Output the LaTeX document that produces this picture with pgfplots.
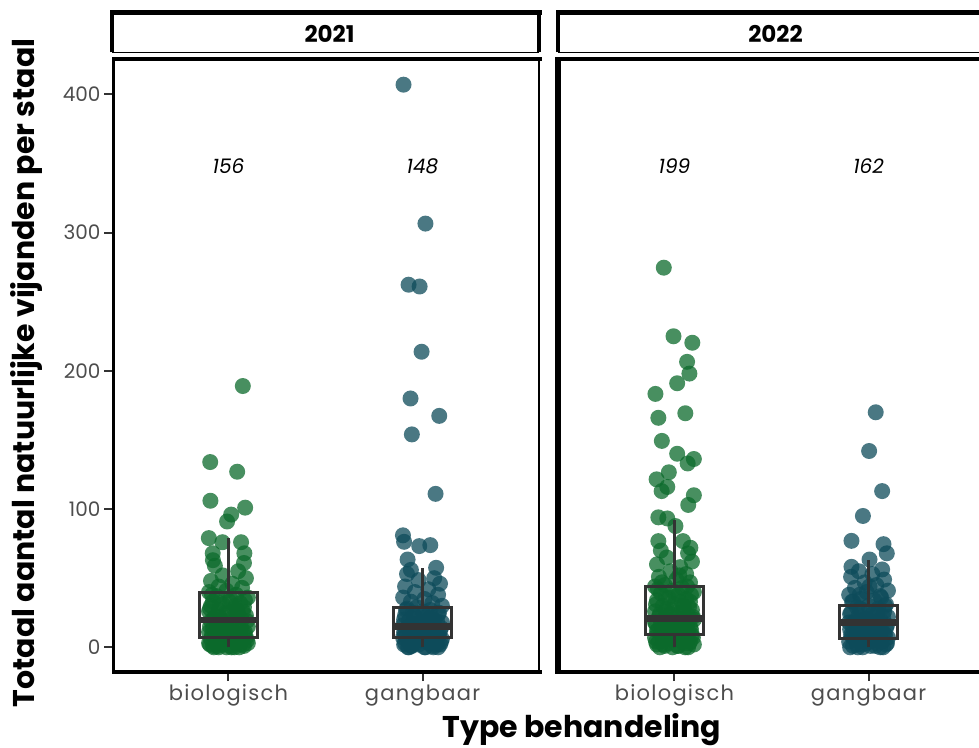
\documentclass[border=0pt]{standalone}
\usepackage{fontspec}
\setmainfont{Poppins}
\usepackage{pgfplots}
\pgfplotsset{compat=1.18}

\definecolor{bio}{HTML}{0B6A2B}
\definecolor{gang}{HTML}{0D4B5A}
\definecolor{boxc}{HTML}{333333}
\definecolor{tickc}{HTML}{4D4D4D}

\tikzset{lab/.style={font=\fontsize{20}{24}\selectfont\itshape, anchor=base}}

\pgfplotsset{
  pts/.style={only marks, mark=*, mark size=8pt,
    mark options={draw=#1, fill=#1, draw opacity=0, fill opacity=0.75}},
  bx/.style={boxc, line width=3pt, mark=none, line join=miter, unbounded coords=jump},
  md/.style={boxc, line width=6.5pt, mark=none},
}

% panel 2 (2022) is drawn in the same axis, shifted by 2.298 units
\begin{document}
\begin{tikzpicture}
\begin{axis}[
    at={(112pt,74pt)}, anchor=south west,
    scale only axis, width=873pt, height=615pt,
    xmin=0.4, xmax=4.898, ymin=-18.6, ymax=426.3,
    clip marker paths=true,
    xtick={1,2,3.298,4.298},
    xticklabels={biologisch,gangbaar,biologisch,gangbaar},
    ytick={0,100,200,300,400},
    tick align=outside, major tick length=8pt,
    xtick pos=bottom, ytick pos=left,
    every tick/.style={boxc, line width=2pt},
    axis line style={draw=none},
    tick label style={font=\fontsize{20}{24}\selectfont, text=tickc},
    xticklabel style={font=\fontsize{21}{24}\selectfont\addfontfeature{LetterSpace=6}},
    /pgf/number format/assume math mode=true,
  ]
  % ---- 2021 ----
  \addplot[pts=bio] coordinates {
    (1.074,189)(0.906,134)(1.045,127)(0.907,106)(1.086,101)(1.014,96)
    (0.993,91)(0.899,79)(0.969,76)(1.065,76)(1.082,68)(0.919,68)
    (0.92,63)(1.08,61)(0.93,59)(1.05,55)(0.97,52)(1.09,50)(0.91,48)
    (1.02,46)(0.95,44)(1.07,43)(0.99,41)(0.90,40)(1.04,38)(0.94,37)
    (1.10,36)(1.01,35)(0.92,33)(1.06,32)(0.97,31)(0.91,30)(1.08,29)
    (1.03,28)(0.95,27)(0.90,26)(1.05,25)(0.99,24)(1.09,23)(0.93,22)
    (1.02,21)(0.96,20)(1.07,20)(0.91,19)(1.00,18)(1.04,17)(0.94,16)
    (1.10,15)(0.98,15)(0.92,14)(1.06,13)(1.01,12)(0.95,12)(0.90,11)
    (1.08,10)(1.03,10)(0.97,9)(0.93,8)(1.05,8)(0.99,7)(1.09,7)(0.91,6)
    (1.02,6)(0.96,5)(1.07,5)(0.94,4)(1.00,4)(1.04,3)(0.90,3)(1.10,3)
    (0.97,2)(1.06,2)(0.92,1)(1.01,1)(1.08,1)(0.95,0)(1.03,0)(0.99,0)
    (0.915,38)(1.085,34)(0.955,32)(1.035,30)(0.905,28)(1.075,26)(0.985,25)
    (1.045,23)(0.925,21)(1.095,19)(0.965,18)(1.015,16)(0.905,15)(1.065,14)
    (0.945,13)(1.025,11)(1.085,11)(0.915,9)(0.985,9)(1.055,8)(0.935,7)
    (1.005,6)(1.095,5)(0.965,4)(1.035,4)(0.905,2)(1.075,2)(0.945,1)
    (1.015,0)(1.055,0)(0.925,0)(0.975,12)(1.045,27)(0.955,22)(1.005,33)
  };
  \addplot[pts=gang] coordinates {
    (1.902,407)(2.015,306.5)(1.928,262.3)(1.985,261)(1.995,213.8)
    (1.938,180)(2.086,167.4)(1.945,154)(2.067,111)(1.899,81)(1.905,76.3)
    (1.983,73.2)(2.04,73.9)(1.923,63.5)
    (2.07,57.5)(1.94,56)(1.92,53)(2.06,50)(1.98,48.6)(2.09,46)(1.91,44)
    (2.03,42)(1.96,40)(2.08,38)(1.90,36)(2.01,35)(1.94,33)(2.05,32)
    (2.10,30)(1.97,29)(1.92,28)(2.04,27)(2.00,26)(1.95,25)(2.08,24)
    (1.91,23)(2.02,22)(1.97,21)(2.06,20)(1.93,19)(2.10,18)(1.99,17)
    (2.04,16)(1.90,16)(1.95,15)(2.07,14)(2.01,14)(1.93,13)(2.09,12)
    (1.97,12)(2.03,11)(1.91,10)(2.06,10)(1.99,9)(1.94,9)(2.08,8)(2.02,8)
    (1.90,7)(1.96,7)(2.05,6)(2.10,6)(1.92,5)(2.00,5)(2.07,4)(1.95,4)
    (2.03,3)(1.91,3)(1.98,2)(2.09,2)(1.94,1)(2.05,1)(2.01,0)(1.93,0)(2.08,0)
    (1.915,27)(2.085,25)(1.955,23)(2.035,21)(1.905,20)(2.075,19)(1.985,18)
    (2.045,17)(1.925,15)(2.095,14)(1.965,13)(2.015,12)(1.905,11)(2.065,11)
    (1.945,10)(2.025,9)(2.085,9)(1.915,8)(1.985,7)(2.055,7)(1.935,6)
    (2.005,6)(2.095,4)(1.965,3)(2.035,3)(1.905,2)(2.075,2)(1.945,1)
    (2.015,0)(2.055,0)(1.925,0)(1.975,11)(2.045,22)(1.955,17)(2.005,24)
  };
  % ---- 2022 ----
  \addplot[pts=bio, x filter/.expression={x+2.298}] coordinates {
    (0.945,274.6)(0.995,225)(1.092,220.3)(1.065,206.5)(1.077,198)
    (1.014,191)(0.902,183.3)(0.917,166)(1.056,169.3)(0.935,149.3)
    (1.014,140)(1.068,133)(1.100,136.2)(0.971,126.6)(0.908,121.5)
    (0.934,113)(0.963,116)(1.10,110)(1.071,103)(0.917,94)(0.963,93.2)
    (1.005,87.7)(0.917,76.8)(1.044,76.8)(1.082,72)
    (0.93,70)(1.07,68)(0.96,65)(1.09,62)(0.91,60)(1.03,58)(0.98,55)
    (1.06,53)(0.92,51)(1.01,49)(1.08,47)(0.95,45)(0.90,44)(1.04,43)
    (0.99,41)(1.10,40)(0.93,39)(1.02,38)(0.97,36)(1.06,35)(0.91,34)
    (1.08,33)(1.00,31)(0.94,30)(1.05,29)(0.96,28)(1.09,27)(0.90,26)
    (1.03,25)(0.98,24)(1.07,23)(0.92,22)(1.01,21)(0.95,21)(1.10,20)
    (1.04,19)(0.90,18)(0.97,18)(1.06,17)(0.93,16)(1.00,15)(1.08,15)
    (0.95,14)(1.02,13)(0.91,12)(1.07,12)(0.98,11)(1.04,10)(0.93,10)
    (1.09,9)(0.96,8)(1.01,8)(0.90,7)(1.06,7)(0.94,6)(1.03,5)(0.99,5)
    (1.08,4)(0.92,4)(1.05,3)(0.97,3)(1.10,2)(0.91,2)(1.02,1)(0.95,1)
    (1.07,0)(0.99,0)
    (0.915,42)(1.085,38)(0.955,36)(1.035,33)(0.905,31)(1.075,29)(0.985,27)
    (1.045,25)(0.925,24)(1.095,22)(0.965,20)(1.015,19)(0.905,17)(1.065,16)
    (0.945,15)(1.025,14)(1.085,13)(0.915,12)(0.985,11)(1.055,10)(0.935,9)
    (1.005,8)(1.095,7)(0.965,6)(1.035,5)(0.905,4)(1.075,3)(0.945,2)
    (1.015,1)(1.055,0)(0.925,0)(0.975,16)(1.045,30)(0.955,26)(1.005,37)
    (1.065,44)(0.935,47)(1.025,52)
  };
  \addplot[pts=gang, x filter/.expression={x+2.298}] coordinates {
    (2.037,170)(2.003,142)(2.07,113)(1.971,95)(1.912,77)(2.077,74.6)
    (2.094,68)(2.005,63.5)(1.912,58.2)(2.07,56.3)
    (1.95,55)(2.02,53)(1.91,51)(2.08,49)(1.98,47)(2.04,45)(1.93,43)
    (2.10,41)(1.99,40)(1.90,38)(2.06,37)(1.96,35)(2.03,34)(1.92,33)
    (2.09,31)(2.00,30)(1.94,29)(2.05,28)(1.97,27)(2.08,26)(1.91,25)
    (2.02,24)(1.95,23)(2.10,22)(1.99,21)(2.06,20)(1.93,19)(2.01,18)
    (1.90,18)(2.07,17)(1.96,16)(2.04,15)(1.92,14)(2.09,14)(1.98,13)
    (2.03,12)(1.94,11)(2.08,10)(2.00,10)(1.91,9)(2.05,8)(1.97,8)
    (2.10,7)(1.93,6)(2.02,6)(1.96,5)(2.07,4)(1.90,4)(1.99,3)(2.04,3)
    (1.94,2)(2.09,2)(2.01,1)(1.92,1)(2.06,0)(1.97,0)
    (1.915,33)(2.085,30)(1.955,28)(2.035,26)(1.905,24)(2.075,22)(1.985,21)
    (2.045,19)(1.925,18)(2.095,16)(1.965,15)(2.015,14)(1.905,13)(2.065,12)
    (1.945,11)(2.025,10)(2.085,9)(1.915,8)(1.985,7)(2.055,6)(1.935,5)
    (2.005,4)(2.095,3)(1.965,2)(2.035,1)(1.905,0)(2.075,0)(1.945,0)
    (1.975,20)(2.045,25)(1.955,38)(2.005,44)(2.065,36)
  };
  % ---- boxplots: box, whiskers, median ----
  \addplot[bx] coordinates {(0.85,6.8)(1.15,6.8)(1.15,39.4)(0.85,39.4)(0.85,6.8)(1.15,6.8)};
  \addplot[bx] coordinates {(1,0)(1,6.8)(1,nan)(1,39.4)(1,79)};
  \addplot[md] coordinates {(0.85,19.6)(1.15,19.6)};
  \addplot[bx] coordinates {(1.85,6.8)(2.15,6.8)(2.15,29)(1.85,29)(1.85,6.8)(2.15,6.8)};
  \addplot[bx] coordinates {(2,0)(2,6.8)(2,nan)(2,29)(2,57.5)};
  \addplot[md] coordinates {(1.85,15.2)(2.15,15.2)};
  \addplot[bx] coordinates {(3.148,9.4)(3.448,9.4)(3.448,43.7)(3.148,43.7)(3.148,9.4)(3.448,9.4)};
  \addplot[bx] coordinates {(3.298,0)(3.298,9.4)(3.298,nan)(3.298,43.7)(3.298,92)};
  \addplot[md] coordinates {(3.148,21)(3.448,21)};
  \addplot[bx] coordinates {(4.148,6.3)(4.448,6.3)(4.448,30.2)(4.148,30.2)(4.148,6.3)(4.448,6.3)};
  \addplot[bx] coordinates {(4.298,0)(4.298,6.3)(4.298,nan)(4.298,30.2)(4.298,63.5)};
  \addplot[md] coordinates {(4.148,18.1)(4.448,18.1)};
  % sample sizes
  \node[lab] at (axis cs:1,343) {156};
  \node[lab] at (axis cs:2,343) {148};
  \node[lab] at (axis cs:3.298,343) {199};
  \node[lab] at (axis cs:4.298,343) {162};
  % panel borders
  \draw[line width=2.7pt] (axis cs:0.4,-18.6) rectangle (axis cs:2.6,426.3);
  \draw[line width=2.7pt] (axis cs:2.698,-18.6) rectangle (axis cs:4.898,426.3);
  \draw[line width=5.5pt, line cap=rect] (axis cs:2.6,426.3) -- (axis cs:0.4,426.3)
    -- (axis cs:0.4,-18.6) -- (axis cs:2.6,-18.6);
  \draw[line width=5.5pt, line cap=rect] (axis cs:4.898,426.3) -- (axis cs:2.698,426.3)
    -- (axis cs:2.698,-18.6) -- (axis cs:4.898,-18.6);
\end{axis}

% strips
\draw[line width=3.5pt] (112pt,694.5pt) -- (112pt,734.5pt);
\draw[line width=3.5pt] (539pt,694.5pt) -- (539pt,734.5pt);
\draw[line width=5pt, line cap=rect] (112pt,734.5pt) -- (539pt,734.5pt);
\draw[line width=1.5pt] (112pt,694.5pt) -- (539pt,694.5pt);
\node[font=\fontsize{23}{27}\selectfont\bfseries, anchor=base] at (329.5pt,704.3pt) {2021};
\draw[line width=3.5pt] (558pt,694.5pt) -- (558pt,734.5pt);
\draw[line width=3.5pt] (985pt,694.5pt) -- (985pt,734.5pt);
\draw[line width=5pt, line cap=rect] (558pt,734.5pt) -- (985pt,734.5pt);
\draw[line width=1.5pt] (558pt,694.5pt) -- (985pt,694.5pt);
\node[font=\fontsize{23}{27}\selectfont\bfseries, anchor=base] at (775.5pt,704.3pt) {2022};

% axis titles
\node[font=\fontsize{30}{34}\selectfont\bfseries, anchor=base]
  at (582pt,9.5pt) {Type behandeling};
\node[font=\fontsize{30}{34}\selectfont\bfseries, anchor=base, rotate=90]
  at (35pt,374pt) {Totaal aantal natuurlijke vijanden per staal};

\pgfresetboundingbox
\path[use as bounding box] (0pt,0pt) rectangle (979pt,747pt);
\end{tikzpicture}
\end{document}
